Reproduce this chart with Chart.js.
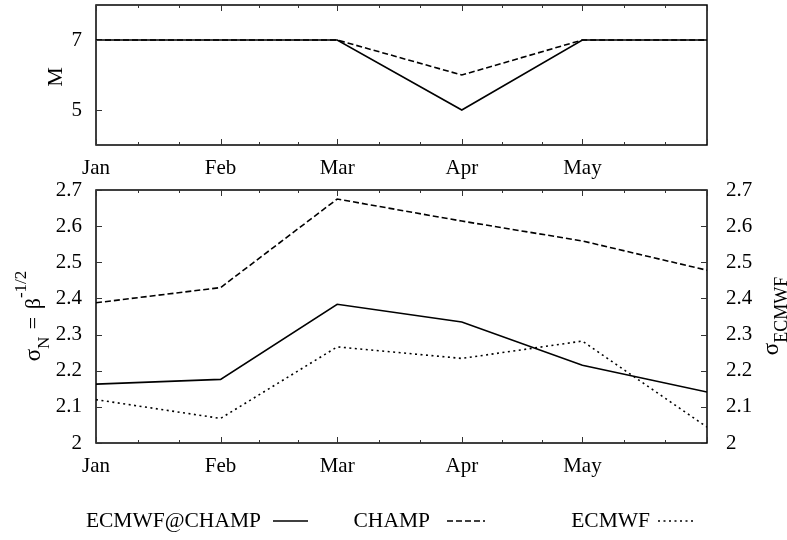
<!DOCTYPE html>
<html>
<head>
<meta charset="utf-8">
<script src="https://cdn.jsdelivr.net/npm/chart.js@4.4.0/dist/chart.umd.min.js"></script>
<style>
  html, body { margin: 0; padding: 0; background: #fff; }
  #wrap { position: relative; width: 787px; height: 540px; }
  #topChart { position: absolute; left: 0; top: 0; }
  #bottomChart { position: absolute; left: 0; top: 175px; }
</style>
</head>
<body>
<div id="wrap">
  <canvas id="topChart" width="787" height="185"></canvas>
  <canvas id="bottomChart" width="787" height="365"></canvas>
</div>
<script>
// x positions are day-of-year (leap year) of the 1st of each month
const months = ['Jan', 'Feb', 'Mar', 'Apr', 'May', 'Jun'];
const monthDays = [0, 31, 60, 91, 121, 152];
const labelledMonths = ['Jan', 'Feb', 'Mar', 'Apr', 'May'];

// upper panel: M
const mTicks = [5, 7];
const mEcmwfChamp = [7, 7, 7, 5, 7, 7];
const mChamp = [7, 7, 7, 6, 7, 7];

// lower panel: sigma
const sigmaTicks = [2, 2.1, 2.2, 2.3, 2.4, 2.5, 2.6, 2.7];
const sigmaEcmwfChamp = [2.163, 2.176, 2.384, 2.335, 2.215, 2.141];
const sigmaChamp = [2.388, 2.430, 2.675, 2.614, 2.559, 2.478];
const sigmaEcmwf = [2.120, 2.068, 2.266, 2.234, 2.282, 2.044];

const seriesNames = ['ECMWF@CHAMP', 'CHAMP', 'ECMWF'];

const FONT = "'Liberation Serif', 'Times New Roman', serif";
const SOLID = [];
const DASHED = [6, 3];
const DOTTED = [2, 3.5];

// major ticks on the 1st of each month, two minor ticks in between
const xTickValues = [];
for (let i = 0; i < monthDays.length - 1; i++) {
    const a = monthDays[i], b = monthDays[i + 1];
    xTickValues.push(a, a + (b - a) / 3, a + 2 * (b - a) / 3);
}
xTickValues.push(monthDays[monthDays.length - 1]);

function points(values) {
    return monthDays.map((d, i) => ({ x: d, y: values[i] }));
}

function lineSet(label, values, dash, axis) {
    return {
        label: label,
        data: points(values),
        borderColor: '#000',
        borderWidth: 1.6,
        borderDash: dash,
        pointRadius: 0,
        tension: 0,
        fill: false,
        yAxisID: axis || 'y'
    };
}

function monthAxis() {
    return {
        type: 'linear',
        min: monthDays[0],
        max: monthDays[monthDays.length - 1],
        afterBuildTicks: s => { s.ticks = xTickValues.map(v => ({ value: v })); },
        afterFit: s => { s.height = 40; s.paddingLeft = 0; s.paddingRight = 0; },
        grid: { display: false, drawTicks: false },
        border: { display: false },
        ticks: {
            autoSkip: false, maxRotation: 0, minRotation: 0, padding: 11,
            color: '#000', font: { family: FONT, size: 21 },
            callback: v => {
                const i = monthDays.indexOf(v);
                return i >= 0 && i < labelledMonths.length ? labelledMonths[i] : '';
            }
        }
    };
}

function valueAxis(tickList, min, max, position, width, pad) {
    return {
        type: 'linear',
        position: position,
        min: min,
        max: max,
        afterBuildTicks: s => { s.ticks = tickList.map(v => ({ value: v })); },
        afterFit: s => { s.width = width; s.paddingTop = 0; s.paddingBottom = 0; },
        grid: { display: false, drawTicks: false },
        border: { display: false },
        ticks: {
            padding: pad, color: '#000', font: { family: FONT, size: 21 },
            callback: v => String(+v.toFixed(1))
        }
    };
}

// box around the plot with inward tick marks
const framePlugin = {
    id: 'frame',
    afterDatasetsDraw(chart) {
        const { ctx, chartArea: a, scales } = chart;
        ctx.save();
        ctx.strokeStyle = '#000';
        ctx.lineWidth = 1.5;
        ctx.strokeRect(a.left, a.top, a.right - a.left, a.bottom - a.top);
        ctx.strokeStyle = '#333';
        ctx.lineWidth = 1;
        ctx.beginPath();
        scales.x.ticks.forEach(t => {
            const px = Math.round(scales.x.getPixelForValue(t.value)) + 0.5;
            const len = monthDays.includes(t.value) ? 6 : 3;
            ctx.moveTo(px, a.bottom);
            ctx.lineTo(px, a.bottom - len);
            ctx.moveTo(px, a.top);
            ctx.lineTo(px, a.top + len);
        });
        scales.y.ticks.forEach(t => {
            const py = Math.round(scales.y.getPixelForValue(t.value)) + 0.5;
            ctx.moveTo(a.left, py);
            ctx.lineTo(a.left + 6, py);
        });
        if (scales.y2) {
            scales.y2.ticks.forEach(t => {
                const py = Math.round(scales.y2.getPixelForValue(t.value)) + 0.5;
                ctx.moveTo(a.right, py);
                ctx.lineTo(a.right - 6, py);
            });
        }
        ctx.stroke();
        ctx.restore();
    }
};

// rotated axis title built from pieces (subscripts / superscripts)
function drawRotatedTitle(ctx, baseX, centerY, parts) {
    ctx.save();
    let total = 0;
    parts.forEach(p => {
        ctx.font = p.size + 'px ' + FONT;
        p.w = ctx.measureText(p.text).width + (p.gap || 0);
        total += p.w;
    });
    ctx.translate(baseX, centerY);
    ctx.rotate(-Math.PI / 2);
    ctx.fillStyle = '#000';
    ctx.textAlign = 'left';
    ctx.textBaseline = 'alphabetic';
    let x = -total / 2;
    parts.forEach(p => {
        ctx.font = p.size + 'px ' + FONT;
        ctx.fillText(p.text, x, p.shift);
        x += p.w;
    });
    ctx.restore();
}

const titlePlugin = {
    id: 'titles',
    afterDraw(chart, args, opts) {
        opts.items.forEach(t => drawRotatedTitle(chart.ctx, t.x, t.y, t.parts));
    }
};

// key row under the lower panel: right-aligned name followed by a line sample
const keyPlugin = {
    id: 'key',
    afterDraw(chart, args, opts) {
        const ctx = chart.ctx;
        ctx.save();
        ctx.font = '21.5px ' + FONT;
        ctx.fillStyle = '#000';
        ctx.textAlign = 'right';
        ctx.textBaseline = 'middle';
        chart.data.datasets.forEach((ds, i) => {
            const col = opts.columns[i];
            ctx.fillText(ds.label, col.textRight, opts.y);
            ctx.beginPath();
            ctx.setLineDash(ds.borderDash);
            ctx.lineWidth = ds.borderWidth;
            ctx.strokeStyle = ds.borderColor;
            ctx.moveTo(col.from, opts.y);
            ctx.lineTo(col.to, opts.y);
            ctx.stroke();
        });
        ctx.restore();
    }
};

const common = {
    responsive: false,
    animation: false,
    devicePixelRatio: 1,
    events: []
};

new Chart(document.getElementById('topChart'), {
    type: 'line',
    data: {
        datasets: [
            lineSet(seriesNames[0], mEcmwfChamp, SOLID),
            lineSet(seriesNames[1], mChamp, DASHED)
        ]
    },
    options: Object.assign({}, common, {
        layout: { padding: { top: 5, right: 80, left: 0, bottom: 0 } },
        scales: {
            x: monthAxis(),
            y: valueAxis(mTicks, 4, 8, 'left', 96, 14)
        },
        plugins: {
            legend: { display: false },
            tooltip: { enabled: false },
            titles: { items: [{ x: 62, y: 77, parts: [{ text: 'M', size: 22, shift: 0 }] }] }
        }
    }),
    plugins: [framePlugin, titlePlugin]
});

new Chart(document.getElementById('bottomChart'), {
    type: 'line',
    data: {
        datasets: [
            lineSet(seriesNames[0], sigmaEcmwfChamp, SOLID),
            lineSet(seriesNames[1], sigmaChamp, DASHED),
            lineSet(seriesNames[2], sigmaEcmwf, DOTTED, 'y2')
        ]
    },
    options: Object.assign({}, common, {
        layout: { padding: { top: 15, right: 0, left: 0, bottom: 57 } },
        scales: {
            x: monthAxis(),
            y: valueAxis(sigmaTicks, 2, 2.7, 'left', 96, 14),
            y2: valueAxis(sigmaTicks, 2, 2.7, 'right', 80, 19)
        },
        plugins: {
            legend: { display: false },
            tooltip: { enabled: false },
            titles: {
                items: [
                    { x: 40, y: 141, parts: [
                        { text: 'σ', size: 23, shift: 0 },
                        { text: 'N', size: 17, shift: 9, gap: 2 },
                        { text: ' = ', size: 22, shift: 0, gap: 2 },
                        { text: 'β', size: 22, shift: 0 },
                        { text: '-1/2', size: 17, shift: -14 }
                    ] },
                    { x: 778, y: 141, parts: [
                        { text: 'σ', size: 23, shift: 0 },
                        { text: 'ECMWF', size: 18, shift: 9 }
                    ] }
                ]
            },
            key: {
                y: 346,
                columns: [
                    { textRight: 261, from: 273, to: 308 },
                    { textRight: 430, from: 447, to: 485 },
                    { textRight: 650, from: 658, to: 696 }
                ]
            }
        }
    }),
    plugins: [framePlugin, titlePlugin, keyPlugin]
});
</script>
</body>
</html>
